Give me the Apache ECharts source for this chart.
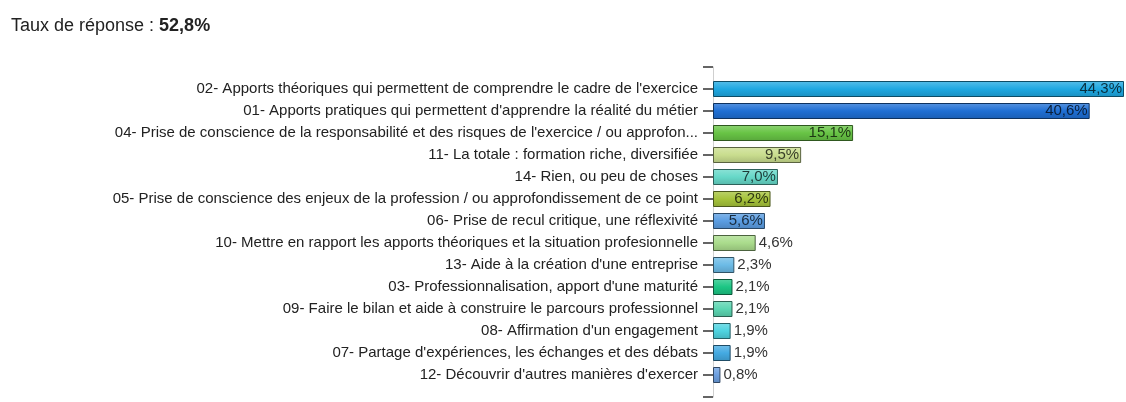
<!DOCTYPE html>
<html>
<head>
<meta charset="utf-8">
<script src="https://cdn.jsdelivr.net/npm/echarts@6/dist/echarts.min.js"></script>
<style>
  html, body { margin: 0; padding: 0; background: #fff; }
  #main { width: 1126px; height: 402px; }
</style>
</head>
<body>
<div id="main"></div>
<script>
// réponses, de la plus citée à la moins citée
var categories = [
  "02- Apports théoriques qui permettent de comprendre le cadre de l'exercice",
  "01- Apports pratiques qui permettent d'apprendre la réalité du métier",
  "04- Prise de conscience de la responsabilité et des risques de l'exercice / ou approfon...",
  "11- La totale : formation riche, diversifiée",
  "14- Rien, ou peu de choses",
  "05- Prise de conscience des enjeux de la profession / ou approfondissement de ce point",
  "06- Prise de recul critique, une réflexivité",
  "10- Mettre en rapport les apports théoriques et la situation profesionnelle",
  "13- Aide à la création d'une entreprise",
  "03- Professionnalisation, apport d'une maturité",
  "09- Faire le bilan et aide à construire le parcours professionnel",
  "08- Affirmation d'un engagement",
  "07- Partage d'expériences, les échanges et des débats",
  "12- Découvrir d'autres manières d'exercer"
];
var values = [44.3, 40.6, 15.1, 9.5, 7.0, 6.2, 5.6, 4.6, 2.3, 2.1, 2.1, 1.9, 1.9, 0.8];
var tauxReponse = '52,8%';

// couleurs des barres
var barColors = ['#1ea8e2', '#1f6fd4', '#68c445', '#c9dd8e', '#66d8c8', '#a6c33b', '#5b9de2',
  '#aadc8c', '#6cbbe6', '#1cc684', '#5cd6b2', '#4fd3e0', '#44aae2', '#6c9fe0'];

function shade(hex, f) {
  var n = parseInt(hex.slice(1), 16);
  var r = (n >> 16) & 255, g = (n >> 8) & 255, b = n & 255;
  function c(v) {
    v = f < 0 ? v * (1 + f) : v + (255 - v) * f;
    return Math.round(Math.max(0, Math.min(255, v)));
  }
  return 'rgb(' + c(r) + ',' + c(g) + ',' + c(b) + ')';
}

function fmt(v) {
  return v.toFixed(1).replace('.', ',') + '%';
}

var axisData = [''].concat(categories, ['']);
var seriesData = ['-'];
values.forEach(function (v, i) {
  var col = barColors[i];
  var inside = v >= 5;
  seriesData.push({
    value: v,
    itemStyle: {
      color: {
        type: 'linear', x: 0, y: 0, x2: 0, y2: 1,
        colorStops: [
          { offset: 0, color: shade(col, 0.25) },
          { offset: 0.5, color: col },
          { offset: 1, color: shade(col, -0.15) }
        ]
      },
      borderColor: shade(col, -0.55),
      borderWidth: 1
    },
    label: {
      position: inside ? 'insideRight' : 'right',
      distance: inside ? 2 : 3,
      color: inside ? shade(col, -0.72) : '#333'
    }
  });
});
seriesData.push('-');

var chart = echarts.init(document.getElementById('main'));
chart.setOption({
  animation: false,
  title: {
    text: '{n|Taux de réponse : }{b|' + tauxReponse + '}',
    left: 6,
    top: 12,
    textStyle: {
      rich: {
        n: { fontFamily: 'Liberation Sans', fontSize: 18, fontWeight: 'normal', color: '#222' },
        b: { fontFamily: 'Liberation Sans', fontSize: 18, fontWeight: 'bold', color: '#222' }
      }
    }
  },
  grid: { left: 713, right: 2, top: 67, bottom: 5 },
  xAxis: {
    type: 'value',
    min: 0,
    max: 'dataMax',
    show: false
  },
  yAxis: {
    type: 'category',
    inverse: true,
    boundaryGap: false,
    data: axisData,
    axisLine: { show: true, lineStyle: { color: '#cfcfcf', width: 1 } },
    axisTick: { show: true, length: 10, lineStyle: { color: '#333', width: 1.5 } },
    axisLabel: {
      margin: 15,
      fontFamily: 'Liberation Sans',
      fontSize: 15,
      color: '#222',
      interval: 0
    },
    splitLine: { show: false }
  },
  series: [{
    type: 'bar',
    barWidth: 16,
    data: seriesData,
    label: {
      show: true,
      fontFamily: 'Liberation Sans',
      fontSize: 15,
      formatter: function (p) { return fmt(p.value); }
    }
  }]
});
</script>
</body>
</html>
